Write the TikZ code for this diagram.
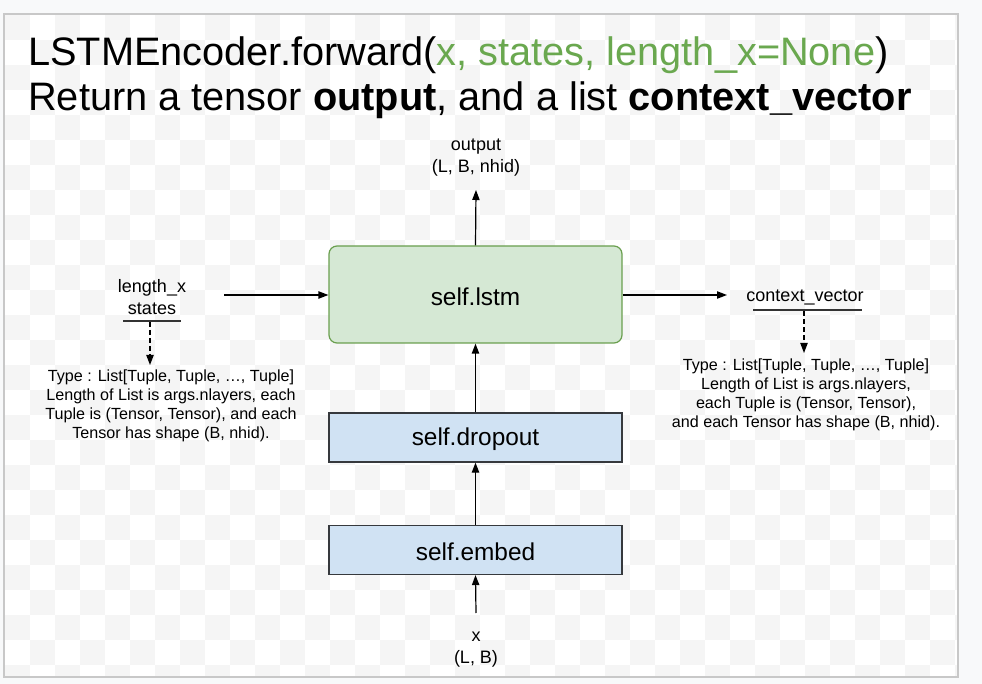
\documentclass[tikz,border=0pt]{standalone}
\usepackage{fontspec}
\setmainfont{Liberation Sans}
\usetikzlibrary{arrows.meta}
\definecolor{pagebg}{HTML}{F8F9FA}
\definecolor{checker}{HTML}{F5F5F5}
\definecolor{panelline}{HTML}{C8C8C8}
\definecolor{greenfill}{HTML}{D5E8D4}
\definecolor{greenline}{HTML}{6A9F4F}
\definecolor{bluefill}{HTML}{D0E2F3}
\definecolor{blueline}{HTML}{36393D}
\definecolor{titlegreen}{HTML}{6AA84F}
\tikzset{
  lstmbox/.style={draw=greenline, fill=greenfill, rounded corners=6pt, line width=0.9pt,
    minimum width=293*0.75pt, minimum height=97*0.75pt, inner sep=0pt, font=\fontsize{18.3}{22}\selectfont},
  layerbox/.style={draw=blueline, fill=bluefill, line width=0.9pt,
    minimum width=293*0.75pt, minimum height=49*0.75pt, inner sep=0pt, font=\fontsize{18.3}{22}\selectfont},
  boxtext/.style={inner sep=0pt, font=\fontsize{18.3}{22}\selectfont},
  lbl/.style={align=center, inner sep=0pt, font=\fontsize{13.5}{16.5}\selectfont},
  note/.style={align=center, inner sep=0pt, font=\fontsize{12.1}{14.2}\selectfont},
  conn/.style={-{Triangle[length=7.5pt,width=5.5pt]}, line width=0.9pt},
  dconn/.style={-{Triangle[length=7.5pt,width=5.5pt]}, line width=0.9pt, dash pattern=on 3.5pt off 2.5pt},
  uline/.style={line width=1pt, draw=black!80}
}
\begin{document}
\begin{tikzpicture}[x=0.75pt,y=-0.75pt]
\useasboundingbox (0,0) rectangle (982,684);
\fill[pagebg] (0,0) rectangle (982,684);
\fill[white] (4,14) rectangle (958,677);
\begin{scope}
\clip (4,14) rectangle (958,677);
\foreach \i in {-1,...,38} {
  \foreach \j in {-1,...,26} {
    \pgfmathtruncatemacro{\cellpar}{mod(\i+\j+100,2)}
    \ifnum\cellpar=0
      \fill[checker] ({5+25*\i},{15+25*\j}) rectangle ++(25,25);
    \fi
  }
}
\end{scope}
\draw[panelline, line width=1pt] (4,14) rectangle (958,677);

% title
\node[anchor=base west, inner sep=0pt, font=\fontsize{29.8}{34}\selectfont] (t1) at (28,66)
  {LSTMEncoder.forward(\textcolor{titlegreen}{x, states, length\_x=None})};
\node[anchor=base west, inner sep=0pt, font=\fontsize{29.8}{34}\selectfont] (t2) at (28,111)
  {Return a tensor \textbf{output}, and a list \textbf{context\_vector}};

% boxes
\node[lstmbox] (lstm) at (475.5,294.5) {};
\node[layerbox] (drop) at (475.5,437.5) {};
\node[layerbox] (emb) at (475.5,550) {};
\node[boxtext] (lstmt) at (475.5,296.5) {self.lstm};
\node[boxtext] (dropt) at (475.5,439) {self.dropout};
\node[boxtext] (embt) at (475.5,551.5) {self.embed};

% labels
\node[lbl] (out) at (476,158) {output\\(L, B, nhid)};
\node[lbl] (xin) at (476,650) {x\\(L, B)};
\node[lbl] (states) at (152,297) {length\_x\\states};
\node[lbl] (ctx) at (805,297) {context\_vector};

\coordinate (outarr) at (476,190);
\coordinate (xarr) at (476,613);
\coordinate (sarr) at (224,295);
\coordinate (carr) at (727,295);

\draw[conn] (emb.north) -- (drop.south);
\draw[conn] (drop.north) -- (lstm.south);
\draw[conn] (lstm.north) -- (outarr);
\draw[conn] (xarr) -- (emb.south);
\draw[conn] (sarr) -- (lstm.west |- sarr);
\draw[conn] (lstm.east |- carr) -- (carr);

% underlines
\coordinate (sl1) at (123,321);
\coordinate (sl2) at (181,321);
\coordinate (cl1) at (753,310);
\coordinate (cl2) at (862,310);
\draw[uline] (sl1) -- (sl2);
\draw[uline] (cl1) -- (cl2);

\node[note] (snote) at (171,405.5) {Type : List[Tuple, Tuple, \dots, Tuple]\\Length of List is args.nlayers, each\\Tuple is (Tensor, Tensor), and each\\Tensor has shape (B, nhid).};
\node[note] (cnote) at (806,395) {Type : List[Tuple, Tuple, \dots, Tuple]\\Length of List is args.nlayers,\\each Tuple is (Tensor, Tensor),\\and each Tensor has shape (B, nhid).};

\coordinate (sd1) at (150,322);
\coordinate (sd2) at (150,365);
\coordinate (cd1) at (804,311);
\coordinate (cd2) at (804,353);
\draw[dconn] (sd1) -- (sd2);
\draw[dconn] (cd1) -- (cd2);
\end{tikzpicture}
\end{document}
